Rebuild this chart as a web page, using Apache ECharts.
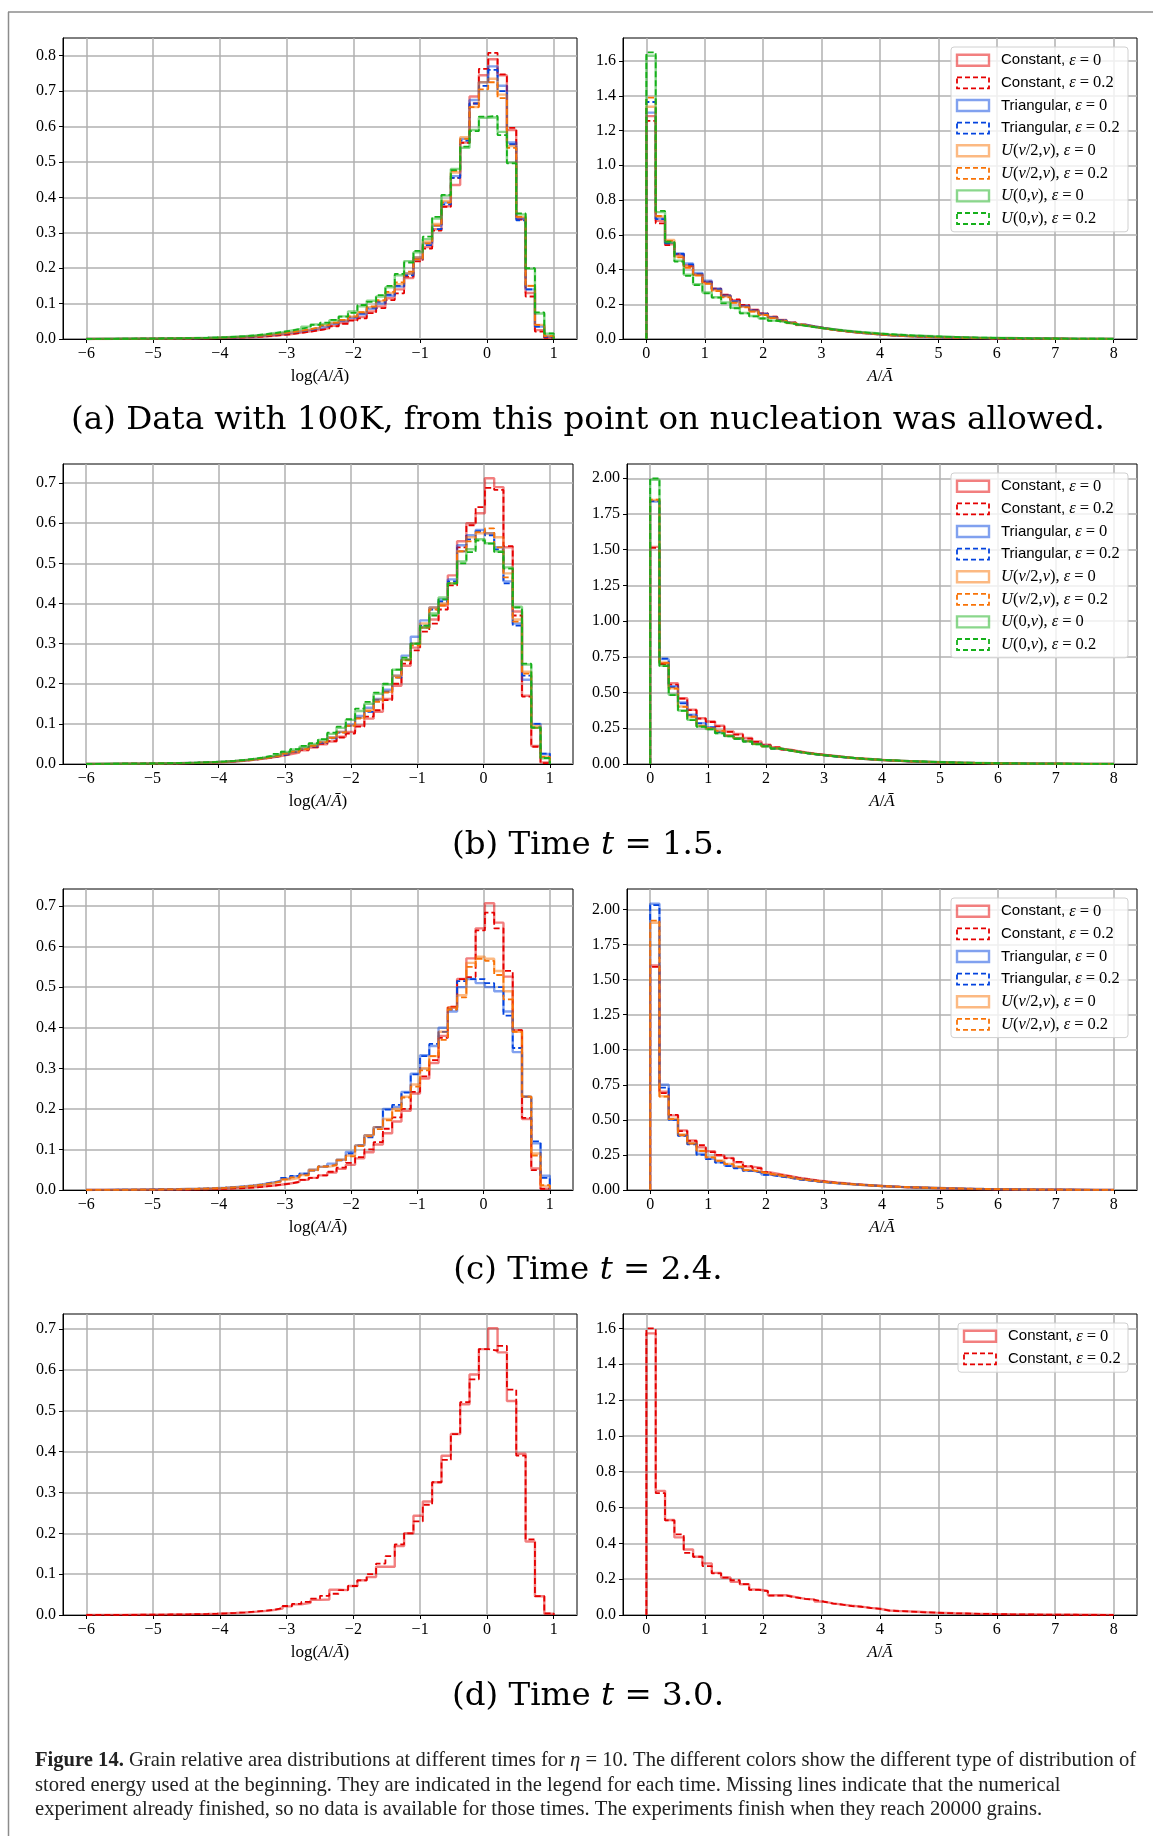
<!DOCTYPE html>
<html><head><meta charset="utf-8">
<script src="https://cdn.jsdelivr.net/npm/echarts@6/dist/echarts.min.js"></script>
<style>html,body{margin:0;padding:0;background:#fff}#c{width:1153px;height:1836px}</style>
</head><body><div id="c"></div><script>
// ---------------- DATA ----------------
// histogram bins: 50 bins over the given range
const logRange = [-6, 1];      // log(A/Ā) histograms (left panels)
const linRange = [0, 8];       // A/Ā histograms (right panels)
const logTicks = [-6, -5, -4, -3, -2, -1, 0, 1];
const linTicks = [0, 1, 2, 3, 4, 5, 6, 7, 8];
const yTicks07 = [0, 0.1, 0.2, 0.3, 0.4, 0.5, 0.6, 0.7];
const yTicks08 = [0, 0.1, 0.2, 0.3, 0.4, 0.5, 0.6, 0.7, 0.8];
const yTicks16 = [0, 0.2, 0.4, 0.6, 0.8, 1.0, 1.2, 1.4, 1.6];
const yTicks20 = [0, 0.25, 0.5, 0.75, 1.0, 1.25, 1.5, 1.75, 2.0];
const seriesNames = ['Constant, ε = 0', 'Constant, ε = 0.2', 'Triangular, ε = 0', 'Triangular, ε = 0.2',
  'U(ν/2,ν), ε = 0', 'U(ν/2,ν), ε = 0.2', 'U(0,ν), ε = 0', 'U(0,ν), ε = 0.2'];
const captions = ['(a) Data with 100K, from this point on nucleation was allowed.',
  '(b) Time {i|t} = 1.5.', '(c) Time {i|t} = 2.4.', '(d) Time {i|t} = 3.0.'];

// (a) 100K, left: log(A/Ā)
const aL_r0 = [0.0002,0.0002,0.0003,0.0004,0.0004,0.0005,0.0006,0.0008,0.0009,0.0011,
  0.0014,0.0017,0.002,0.0025,0.0031,0.0038,0.0046,0.0057,0.0072,0.0092,
  0.0115,0.014,0.018,0.022,0.026,0.031,0.037,0.045,0.054,0.062,
  0.078,0.092,0.115,0.14,0.172,0.225,0.26,0.31,0.375,0.435,
  0.555,0.685,0.745,0.79,0.745,0.59,0.34,0.13,0.025,0.004];
const aL_r2 = [0.0002,0.0002,0.0003,0.0003,0.0004,0.0005,0.0006,0.0007,0.0009,0.0011,
  0.0013,0.0016,0.002,0.0024,0.003,0.0036,0.0045,0.0055,0.007,0.009,
  0.011,0.014,0.017,0.021,0.025,0.03,0.036,0.043,0.052,0.058,
  0.073,0.087,0.11,0.129,0.176,0.219,0.255,0.306,0.373,0.455,
  0.554,0.665,0.763,0.808,0.747,0.596,0.337,0.12,0.021,0.003];
const aL_b0 = [0.0003,0.0003,0.0004,0.0005,0.0006,0.0007,0.0008,0.001,0.0012,0.0015,
  0.0018,0.0022,0.0027,0.0033,0.004,0.005,0.0062,0.0077,0.0097,0.012,
  0.015,0.018,0.022,0.026,0.031,0.036,0.043,0.051,0.06,0.07,
  0.085,0.1,0.122,0.148,0.185,0.23,0.27,0.32,0.385,0.46,
  0.565,0.675,0.725,0.77,0.715,0.555,0.34,0.14,0.035,0.007];
const aL_b2 = [0.0003,0.0003,0.0004,0.0005,0.0006,0.0007,0.0009,0.001,0.0012,0.0015,
  0.0018,0.0022,0.0027,0.0033,0.0041,0.005,0.0063,0.0078,0.0098,0.012,
  0.015,0.018,0.022,0.026,0.031,0.037,0.044,0.052,0.062,0.072,
  0.088,0.105,0.125,0.15,0.18,0.225,0.265,0.31,0.38,0.455,
  0.56,0.665,0.715,0.76,0.7,0.55,0.335,0.14,0.035,0.006];
const aL_o0 = [0.0003,0.0003,0.0004,0.0005,0.0006,0.0007,0.0009,0.0011,0.0013,0.0016,
  0.002,0.0024,0.0029,0.0035,0.0043,0.0053,0.0066,0.0082,0.0102,0.0126,
  0.0155,0.019,0.023,0.027,0.032,0.038,0.045,0.053,0.063,0.075,
  0.09,0.107,0.13,0.155,0.185,0.23,0.275,0.325,0.39,0.47,
  0.57,0.655,0.725,0.735,0.69,0.545,0.345,0.15,0.04,0.008];
const aL_o2 = [0.0003,0.0003,0.0004,0.0005,0.0006,0.0007,0.0009,0.0011,0.0013,0.0016,
  0.002,0.0024,0.0029,0.0036,0.0044,0.0054,0.0067,0.0083,0.0104,0.0128,
  0.016,0.019,0.023,0.028,0.033,0.039,0.046,0.054,0.064,0.076,
  0.092,0.11,0.133,0.16,0.19,0.225,0.27,0.32,0.385,0.475,
  0.565,0.655,0.705,0.725,0.68,0.54,0.345,0.15,0.04,0.008];
const aL_g0 = [0.0003,0.0005,0.0006,0.0007,0.0009,0.001,0.0011,0.0015,0.0017,0.0021,
  0.0025,0.003,0.0034,0.0043,0.0052,0.0063,0.0082,0.0098,0.0125,0.0165,
  0.0195,0.0245,0.0285,0.035,0.041,0.045,0.053,0.064,0.078,0.092,
  0.108,0.12,0.146,0.18,0.22,0.245,0.282,0.34,0.405,0.48,
  0.54,0.59,0.625,0.626,0.585,0.498,0.352,0.198,0.072,0.015];
const aL_g2 = [0.0004,0.0005,0.0006,0.0007,0.0008,0.001,0.0012,0.0014,0.0017,0.002,
  0.0024,0.0029,0.0035,0.0042,0.005,0.0065,0.008,0.01,0.013,0.016,
  0.02,0.024,0.029,0.034,0.04,0.046,0.054,0.063,0.074,0.096,
  0.105,0.124,0.15,0.184,0.216,0.249,0.289,0.345,0.407,0.477,
  0.543,0.587,0.628,0.63,0.576,0.496,0.355,0.2,0.075,0.016];

// (a) right: A/Ā
const aR_r0 = [1.283,0.68,0.545,0.485,0.425,0.372,0.328,0.288,0.252,0.224,
  0.193,0.168,0.146,0.127,0.109,0.095,0.083,0.072,0.063,0.055,
  0.048,0.042,0.036,0.031,0.027,0.023,0.02,0.017,0.015,0.013,
  0.011,0.0095,0.008,0.007,0.006,0.005,0.0043,0.0037,0.0032,0.0027,
  0.0023,0.002,0.0017,0.0014,0.0012,0.001,0.0009,0.0007,0.0006,0.0005];
const aR_r2 = [1.255,0.666,0.54,0.49,0.42,0.37,0.33,0.29,0.255,0.228,
  0.196,0.167,0.148,0.128,0.108,0.094,0.082,0.072,0.062,0.054,
  0.047,0.041,0.036,0.031,0.026,0.022,0.019,0.017,0.014,0.012,
  0.011,0.009,0.008,0.0068,0.0058,0.005,0.0042,0.0036,0.0031,0.0026,
  0.0022,0.0019,0.0016,0.0014,0.0012,0.001,0.0008,0.0007,0.0006,0.0005];
const aR_b0 = [1.303,0.694,0.555,0.493,0.435,0.38,0.335,0.29,0.25,0.218,
  0.19,0.165,0.145,0.126,0.108,0.094,0.082,0.072,0.063,0.055,
  0.048,0.042,0.036,0.031,0.027,0.023,0.02,0.017,0.015,0.013,
  0.011,0.0095,0.008,0.007,0.006,0.005,0.0043,0.0037,0.0032,0.0027,
  0.0023,0.002,0.0017,0.0014,0.0012,0.001,0.0009,0.0007,0.0006,0.0005];
const aR_b2 = [1.364,0.69,0.55,0.49,0.43,0.375,0.325,0.285,0.248,0.215,
  0.188,0.163,0.144,0.125,0.107,0.093,0.081,0.071,0.062,0.054,
  0.047,0.041,0.036,0.031,0.027,0.023,0.02,0.017,0.015,0.013,
  0.011,0.0095,0.008,0.007,0.006,0.005,0.0043,0.0037,0.0032,0.0027,
  0.0023,0.002,0.0017,0.0014,0.0012,0.001,0.0009,0.0007,0.0006,0.0005];
const aR_o0 = [1.337,0.705,0.57,0.474,0.416,0.37,0.32,0.28,0.245,0.21,
  0.185,0.16,0.14,0.122,0.105,0.092,0.08,0.07,0.062,0.054,
  0.047,0.041,0.036,0.031,0.027,0.023,0.02,0.017,0.015,0.013,
  0.011,0.0095,0.008,0.007,0.006,0.005,0.0043,0.0037,0.0032,0.0027,
  0.0023,0.002,0.0017,0.0014,0.0012,0.001,0.0009,0.0007,0.0006,0.0005];
const aR_o2 = [1.389,0.708,0.565,0.47,0.41,0.365,0.318,0.275,0.24,0.208,
  0.182,0.158,0.138,0.12,0.104,0.091,0.08,0.07,0.061,0.053,
  0.047,0.041,0.036,0.031,0.027,0.023,0.02,0.017,0.015,0.013,
  0.011,0.0095,0.008,0.007,0.006,0.005,0.0043,0.0037,0.0032,0.0027,
  0.0023,0.002,0.0017,0.0014,0.0012,0.001,0.0009,0.0007,0.0006,0.0005];
const aR_g0 = [1.63,0.73,0.555,0.45,0.37,0.315,0.268,0.24,0.21,0.18,
  0.15,0.132,0.119,0.106,0.096,0.086,0.077,0.069,0.062,0.056,
  0.05,0.045,0.04,0.036,0.032,0.028,0.025,0.022,0.02,0.018,
  0.016,0.014,0.012,0.0105,0.0093,0.0082,0.0072,0.0063,0.0055,0.0048,
  0.0042,0.0036,0.0031,0.0027,0.0023,0.002,0.0017,0.0015,0.0013,0.0011];
const aR_g2 = [1.65,0.737,0.56,0.445,0.363,0.31,0.263,0.238,0.205,0.177,
  0.148,0.13,0.118,0.105,0.095,0.085,0.076,0.068,0.061,0.055,
  0.049,0.044,0.039,0.035,0.031,0.028,0.025,0.022,0.019,0.017,
  0.015,0.013,0.0115,0.01,0.009,0.008,0.007,0.006,0.0053,0.0046,
  0.004,0.0035,0.003,0.0026,0.0023,0.002,0.0017,0.0015,0.0013,0.0011];

// (b) t = 1.5, left
const bL_r0 = [0.0003,0.0003,0.0004,0.0005,0.0006,0.0008,0.001,0.0012,0.0015,0.0019,
  0.0023,0.0028,0.0034,0.0041,0.005,0.0064,0.0081,0.0102,0.0128,0.016,
  0.0195,0.024,0.0285,0.034,0.041,0.049,0.056,0.068,0.08,0.096,
  0.113,0.13,0.162,0.195,0.245,0.29,0.34,0.36,0.395,0.47,
  0.555,0.6,0.625,0.712,0.69,0.54,0.38,0.17,0.045,0.004];
const bL_r2 = [0.0003,0.0003,0.0004,0.0005,0.0006,0.0008,0.001,0.0012,0.0015,0.0019,
  0.0023,0.0028,0.0034,0.004,0.005,0.0065,0.008,0.01,0.013,0.016,
  0.02,0.024,0.029,0.035,0.042,0.05,0.057,0.066,0.076,0.093,
  0.118,0.134,0.159,0.2,0.25,0.283,0.33,0.35,0.385,0.445,
  0.54,0.595,0.64,0.688,0.683,0.543,0.37,0.168,0.043,0.002];
const bL_b0 = [0.0003,0.0004,0.0005,0.0006,0.0007,0.0009,0.0011,0.0013,0.0016,0.002,
  0.0025,0.003,0.0037,0.0045,0.0055,0.0069,0.0086,0.0108,0.0135,0.017,
  0.021,0.026,0.031,0.038,0.045,0.054,0.066,0.08,0.098,0.12,
  0.14,0.162,0.185,0.22,0.27,0.317,0.358,0.39,0.41,0.46,
  0.545,0.57,0.583,0.575,0.54,0.455,0.35,0.21,0.1,0.025];
const bL_b2 = [0.0003,0.0004,0.0005,0.0006,0.0007,0.0009,0.0011,0.0013,0.0016,0.002,
  0.0025,0.003,0.0036,0.0044,0.0054,0.0068,0.0085,0.0107,0.0134,0.0168,
  0.0205,0.025,0.03,0.037,0.044,0.053,0.064,0.078,0.095,0.115,
  0.13,0.16,0.18,0.215,0.26,0.3,0.345,0.385,0.405,0.455,
  0.53,0.56,0.58,0.57,0.535,0.45,0.345,0.22,0.1,0.026];
const bL_o0 = [0.0003,0.0004,0.0005,0.0006,0.0007,0.0009,0.0011,0.0013,0.0016,0.002,
  0.0025,0.003,0.0037,0.0045,0.0055,0.0069,0.0086,0.0108,0.0135,0.017,
  0.021,0.026,0.031,0.038,0.046,0.055,0.066,0.08,0.096,0.115,
  0.135,0.16,0.18,0.22,0.26,0.3,0.35,0.39,0.4,0.45,
  0.53,0.565,0.575,0.575,0.565,0.475,0.36,0.23,0.095,0.018];
const bL_o2 = [0.0003,0.0004,0.0005,0.0006,0.0007,0.0009,0.0011,0.0013,0.0016,0.002,
  0.0025,0.003,0.0036,0.0044,0.0054,0.0068,0.0085,0.0106,0.0133,0.0167,
  0.021,0.026,0.031,0.037,0.045,0.054,0.065,0.078,0.095,0.113,
  0.132,0.155,0.178,0.215,0.258,0.295,0.34,0.385,0.395,0.45,
  0.53,0.555,0.578,0.587,0.54,0.465,0.355,0.225,0.09,0.018];
const bL_g0 = [0.0004,0.0005,0.0006,0.0007,0.0008,0.001,0.0012,0.0015,0.0019,0.0023,
  0.0028,0.0034,0.0042,0.0051,0.0063,0.0078,0.0097,0.012,0.0155,0.0195,
  0.024,0.03,0.036,0.043,0.05,0.06,0.075,0.09,0.11,0.132,
  0.15,0.175,0.198,0.235,0.26,0.3,0.34,0.375,0.415,0.45,
  0.505,0.535,0.56,0.55,0.53,0.49,0.392,0.248,0.09,0.014];
const bL_g2 = [0.0004,0.0005,0.0006,0.0007,0.0009,0.0011,0.0013,0.0016,0.002,0.0024,
  0.0029,0.0035,0.0043,0.0052,0.0064,0.008,0.01,0.013,0.016,0.02,
  0.025,0.031,0.037,0.045,0.052,0.062,0.078,0.093,0.112,0.138,
  0.155,0.178,0.2,0.235,0.265,0.3,0.345,0.37,0.41,0.45,
  0.5,0.528,0.557,0.549,0.528,0.487,0.39,0.25,0.091,0.015];

// (b) right
const bR_r0 = [1.52,0.705,0.565,0.46,0.38,0.32,0.298,0.268,0.228,0.21,
  0.182,0.158,0.135,0.118,0.102,0.09,0.08,0.071,0.063,0.056,
  0.049,0.043,0.038,0.033,0.029,0.025,0.022,0.019,0.016,0.014,
  0.012,0.01,0.0088,0.0076,0.0065,0.0056,0.0048,0.0041,0.0035,0.003,
  0.0026,0.0022,0.0019,0.0016,0.0014,0.0012,0.001,0.0008,0.0007,0.0006];
const bR_r2 = [1.513,0.7,0.555,0.458,0.377,0.318,0.294,0.263,0.225,0.205,
  0.178,0.155,0.132,0.116,0.1,0.089,0.079,0.07,0.062,0.055,
  0.048,0.042,0.037,0.032,0.028,0.024,0.021,0.018,0.016,0.014,
  0.012,0.01,0.0085,0.0074,0.0064,0.0055,0.0047,0.004,0.0034,0.0029,
  0.0025,0.0021,0.0018,0.0016,0.0013,0.0011,0.001,0.0008,0.0007,0.0006];
const bR_b0 = [1.837,0.735,0.545,0.43,0.345,0.286,0.258,0.226,0.198,0.18,
  0.162,0.142,0.126,0.11,0.097,0.086,0.076,0.067,0.06,0.053,
  0.047,0.041,0.036,0.032,0.028,0.025,0.022,0.019,0.017,0.015,
  0.013,0.011,0.0095,0.0082,0.0071,0.0061,0.0052,0.0045,0.0039,0.0033,
  0.0028,0.0024,0.0021,0.0018,0.0015,0.0013,0.0011,0.0009,0.0008,0.0007];
const bR_b2 = [1.84,0.738,0.538,0.424,0.342,0.284,0.256,0.223,0.195,0.178,
  0.158,0.14,0.125,0.108,0.095,0.084,0.075,0.066,0.059,0.052,
  0.046,0.041,0.036,0.032,0.028,0.025,0.022,0.019,0.017,0.015,
  0.013,0.011,0.0095,0.0082,0.0071,0.0061,0.0052,0.0045,0.0039,0.0033,
  0.0028,0.0024,0.0021,0.0018,0.0015,0.0013,0.0011,0.0009,0.0008,0.0007];
const bR_o0 = [1.848,0.71,0.53,0.402,0.332,0.268,0.25,0.233,0.2,0.182,
  0.161,0.141,0.125,0.11,0.097,0.086,0.076,0.067,0.06,0.053,
  0.047,0.041,0.036,0.032,0.028,0.025,0.022,0.019,0.017,0.015,
  0.013,0.011,0.0095,0.0082,0.0071,0.0061,0.0052,0.0045,0.0039,0.0033,
  0.0028,0.0024,0.0021,0.0018,0.0015,0.0013,0.0011,0.0009,0.0008,0.0007];
const bR_o2 = [1.851,0.708,0.528,0.4,0.33,0.265,0.249,0.232,0.198,0.18,
  0.16,0.14,0.124,0.109,0.096,0.085,0.075,0.067,0.059,0.053,
  0.047,0.041,0.036,0.032,0.028,0.025,0.022,0.019,0.017,0.015,
  0.013,0.011,0.0095,0.0082,0.0071,0.0061,0.0052,0.0045,0.0039,0.0033,
  0.0028,0.0024,0.0021,0.0018,0.0015,0.0013,0.0011,0.0009,0.0008,0.0007];
const bR_g0 = [1.99,0.69,0.485,0.375,0.31,0.262,0.244,0.216,0.195,0.178,
  0.158,0.139,0.124,0.109,0.096,0.085,0.076,0.067,0.06,0.054,
  0.048,0.042,0.037,0.033,0.029,0.026,0.023,0.02,0.018,0.016,
  0.014,0.012,0.01,0.0088,0.0076,0.0066,0.0057,0.0049,0.0042,0.0036,
  0.0031,0.0027,0.0023,0.002,0.0017,0.0014,0.0012,0.001,0.0009,0.0008];
const bR_g2 = [2.0,0.685,0.482,0.372,0.307,0.26,0.242,0.214,0.193,0.176,
  0.157,0.138,0.123,0.108,0.095,0.085,0.075,0.067,0.06,0.053,
  0.047,0.042,0.037,0.033,0.029,0.026,0.023,0.02,0.018,0.016,
  0.014,0.012,0.01,0.0088,0.0076,0.0066,0.0057,0.0049,0.0042,0.0036,
  0.0031,0.0027,0.0023,0.002,0.0017,0.0014,0.0012,0.001,0.0009,0.0008];

// (c) t = 2.4, left
const cL_r0 = [0.0002,0.0002,0.0003,0.0003,0.0004,0.0005,0.0006,0.0007,0.0009,0.0011,
  0.0014,0.0017,0.0021,0.0026,0.0032,0.004,0.005,0.0064,0.0082,0.0105,
  0.013,0.016,0.02,0.025,0.03,0.036,0.043,0.052,0.062,0.078,
  0.093,0.112,0.14,0.169,0.195,0.238,0.275,0.313,0.38,0.45,
  0.52,0.571,0.645,0.707,0.659,0.526,0.394,0.175,0.053,0.003];
const cL_r2 = [0.0002,0.0002,0.0002,0.0003,0.0004,0.0004,0.0005,0.0006,0.0008,0.001,
  0.0012,0.0015,0.0019,0.0024,0.003,0.0038,0.0048,0.006,0.0078,0.01,
  0.013,0.016,0.02,0.025,0.03,0.036,0.045,0.055,0.067,0.081,
  0.1,0.118,0.151,0.179,0.2,0.242,0.28,0.32,0.375,0.452,
  0.52,0.525,0.64,0.684,0.645,0.54,0.394,0.178,0.049,0.003];
const cL_b0 = [0.0003,0.0004,0.0005,0.0006,0.0007,0.0009,0.0011,0.0013,0.0016,0.002,
  0.0025,0.003,0.0037,0.0045,0.0056,0.007,0.0088,0.011,0.014,0.018,
  0.022,0.028,0.034,0.04,0.05,0.057,0.065,0.075,0.094,0.11,
  0.135,0.155,0.2,0.205,0.242,0.287,0.332,0.355,0.4,0.44,
  0.5,0.52,0.51,0.5,0.49,0.44,0.34,0.23,0.115,0.035];
const cL_b2 = [0.0003,0.0004,0.0005,0.0006,0.0007,0.0009,0.0011,0.0013,0.0016,0.002,
  0.0025,0.003,0.0037,0.0045,0.0056,0.007,0.0088,0.011,0.014,0.018,
  0.022,0.03,0.035,0.04,0.048,0.058,0.062,0.073,0.09,0.11,
  0.13,0.155,0.198,0.21,0.24,0.285,0.33,0.36,0.39,0.445,
  0.515,0.52,0.52,0.51,0.5,0.43,0.35,0.23,0.12,0.03];
const cL_o0 = [0.0003,0.0003,0.0004,0.0005,0.0006,0.0008,0.001,0.0012,0.0015,0.0019,
  0.0024,0.0029,0.0035,0.0043,0.0053,0.0066,0.0083,0.0104,0.013,0.0165,
  0.021,0.026,0.03,0.037,0.05,0.057,0.06,0.075,0.085,0.11,
  0.135,0.155,0.175,0.2,0.23,0.26,0.3,0.33,0.39,0.45,
  0.48,0.56,0.575,0.57,0.54,0.49,0.39,0.23,0.09,0.01];
const cL_o2 = [0.0003,0.0003,0.0004,0.0005,0.0006,0.0008,0.001,0.0012,0.0015,0.0019,
  0.0024,0.0029,0.0035,0.0043,0.0053,0.0066,0.0083,0.0104,0.013,0.0165,
  0.021,0.026,0.031,0.036,0.048,0.058,0.062,0.073,0.083,0.108,
  0.132,0.15,0.172,0.195,0.228,0.255,0.295,0.33,0.37,0.445,
  0.475,0.55,0.57,0.565,0.53,0.47,0.39,0.23,0.085,0.012];

// (c) right
const cR_r0 = [1.6,0.7,0.532,0.425,0.353,0.305,0.277,0.246,0.229,0.198,
  0.167,0.158,0.126,0.112,0.1,0.088,0.078,0.069,0.061,0.054,
  0.048,0.042,0.037,0.033,0.029,0.025,0.022,0.019,0.017,0.015,
  0.013,0.011,0.0095,0.0082,0.0071,0.0061,0.0052,0.0045,0.0039,0.0033,
  0.0028,0.0024,0.0021,0.0018,0.0015,0.0013,0.0011,0.0009,0.0008,0.0007];
const cR_r2 = [1.59,0.69,0.535,0.42,0.35,0.32,0.27,0.25,0.225,0.2,
  0.17,0.155,0.128,0.11,0.098,0.087,0.077,0.068,0.06,0.053,
  0.047,0.042,0.037,0.032,0.028,0.025,0.022,0.019,0.017,0.015,
  0.013,0.011,0.0095,0.0082,0.0071,0.0061,0.0052,0.0045,0.0039,0.0033,
  0.0028,0.0024,0.0021,0.0018,0.0015,0.0013,0.0011,0.0009,0.0008,0.0007];
const cR_b0 = [2.04,0.75,0.5,0.39,0.33,0.258,0.222,0.198,0.174,0.158,
  0.138,0.126,0.11,0.1,0.09,0.08,0.071,0.063,0.056,0.05,
  0.045,0.04,0.036,0.032,0.028,0.025,0.022,0.02,0.018,0.016,
  0.014,0.012,0.011,0.0095,0.0083,0.0072,0.0062,0.0054,0.0047,0.004,
  0.0035,0.003,0.0026,0.0022,0.0019,0.0016,0.0014,0.0012,0.001,0.0009];
const cR_b2 = [2.03,0.73,0.5,0.385,0.325,0.25,0.22,0.195,0.17,0.155,
  0.136,0.124,0.108,0.097,0.088,0.075,0.068,0.06,0.054,0.049,
  0.044,0.04,0.036,0.032,0.028,0.025,0.022,0.02,0.018,0.016,
  0.014,0.012,0.011,0.0095,0.0083,0.0072,0.0062,0.0054,0.0047,0.004,
  0.0035,0.003,0.0026,0.0022,0.0019,0.0016,0.0014,0.0012,0.001,0.0009];
const cR_o0 = [1.905,0.668,0.508,0.396,0.334,0.28,0.234,0.21,0.186,0.167,
  0.143,0.129,0.115,0.105,0.092,0.08,0.072,0.064,0.057,0.051,
  0.045,0.04,0.036,0.032,0.028,0.025,0.022,0.02,0.018,0.016,
  0.014,0.012,0.011,0.0095,0.0083,0.0072,0.0062,0.0054,0.0047,0.004,
  0.0035,0.003,0.0026,0.0022,0.0019,0.0016,0.0014,0.0012,0.001,0.0009];
const cR_o2 = [1.92,0.665,0.505,0.39,0.33,0.278,0.232,0.208,0.184,0.165,
  0.142,0.128,0.114,0.104,0.091,0.08,0.071,0.063,0.056,0.05,
  0.045,0.04,0.036,0.032,0.028,0.025,0.022,0.02,0.018,0.016,
  0.014,0.012,0.011,0.0095,0.0083,0.0072,0.0062,0.0054,0.0047,0.004,
  0.0035,0.003,0.0026,0.0022,0.0019,0.0016,0.0014,0.0012,0.001,0.0009];

// (d) t = 3.0, left
const dL_r0 = [0.0002,0.0003,0.0004,0.0004,0.0005,0.0006,0.0008,0.001,0.0012,0.0014,
  0.0017,0.0021,0.0026,0.0032,0.004,0.005,0.0062,0.0077,0.0095,0.012,
  0.016,0.021,0.026,0.03,0.037,0.038,0.062,0.061,0.071,0.085,
  0.093,0.118,0.118,0.169,0.2,0.243,0.278,0.325,0.39,0.443,
  0.516,0.589,0.651,0.702,0.643,0.524,0.395,0.18,0.046,0.003];
const dL_r2 = [0.0002,0.0003,0.0004,0.0004,0.0005,0.0006,0.0008,0.001,0.0012,0.0014,
  0.0017,0.0021,0.0026,0.0033,0.0042,0.0053,0.0066,0.0082,0.01,0.0125,
  0.017,0.022,0.027,0.032,0.04,0.047,0.052,0.061,0.071,0.085,
  0.1,0.126,0.144,0.173,0.2,0.229,0.27,0.325,0.38,0.443,
  0.521,0.577,0.651,0.647,0.659,0.552,0.39,0.185,0.046,0.004];
// (d) right
const dR_r0 = [1.572,0.693,0.53,0.433,0.366,0.325,0.288,0.235,0.209,0.185,
  0.172,0.142,0.134,0.11,0.11,0.1,0.09,0.087,0.075,0.065,
  0.058,0.052,0.047,0.04,0.035,0.025,0.022,0.02,0.018,0.015,
  0.013,0.012,0.01,0.0088,0.0076,0.0065,0.0056,0.0048,0.0041,0.0035,
  0.003,0.0026,0.0022,0.0019,0.0016,0.0014,0.0012,0.001,0.0008,0.0007];
const dR_r2 = [1.6,0.68,0.528,0.45,0.347,0.325,0.273,0.232,0.209,0.194,
  0.172,0.14,0.134,0.108,0.108,0.098,0.09,0.085,0.074,0.064,
  0.058,0.05,0.046,0.039,0.034,0.025,0.022,0.02,0.017,0.015,
  0.013,0.011,0.0098,0.0086,0.0075,0.0064,0.0055,0.0047,0.004,0.0034,
  0.003,0.0025,0.0022,0.0019,0.0016,0.0013,0.0011,0.001,0.0008,0.0007];

// ---------------- LAYOUT / STYLE ----------------
const colors = ['#e50000', '#0343df', '#f97306', '#15b01a'];
const legendRich = [
  '{s|Constant,} {m|ε} {n|=} {n|0}', '{s|Constant,} {m|ε} {n|=} {n|0.2}',
  '{s|Triangular,} {m|ε} {n|=} {n|0}', '{s|Triangular,} {m|ε} {n|=} {n|0.2}',
  '{m|U}{n|(}{m|ν}{n|/2,}{m|ν}{n|),} {m|ε} {n|=} {n|0}', '{m|U}{n|(}{m|ν}{n|/2,}{m|ν}{n|),} {m|ε} {n|=} {n|0.2}',
  '{m|U}{n|(0,}{m|ν}{n|),} {m|ε} {n|=} {n|0}', '{m|U}{n|(0,}{m|ν}{n|),} {m|ε} {n|=} {n|0.2}'];

const rows = [
  { top: 38, h: 301, L: [63, 514], R: [623, 514], yL: [0.85, yTicks08, 1], yR: [1.7325, yTicks16, 1],
    left: [aL_r0, aL_r2, aL_b0, aL_b2, aL_o0, aL_o2, aL_g0, aL_g2],
    right: [aR_r0, aR_r2, aR_b0, aR_b2, aR_o0, aR_o2, aR_g0, aR_g2], legW: 177, capY: 421 },
  { top: 464, h: 300, L: [63, 510], R: [627, 510], yL: [0.7476, yTicks07, 1], yR: [2.1, yTicks20, 2],
    left: [bL_r0, bL_r2, bL_b0, bL_b2, bL_o0, bL_o2, bL_g0, bL_g2],
    right: [bR_r0, bR_r2, bR_b0, bR_b2, bR_o0, bR_o2, bR_g0, bR_g2], legW: 177, capY: 846 },
  { top: 889, h: 301, L: [63, 510], R: [627, 510], yL: [0.742, yTicks07, 1], yR: [2.145, yTicks20, 2],
    left: [cL_r0, cL_r2, cL_b0, cL_b2, cL_o0, cL_o2],
    right: [cR_r0, cR_r2, cR_b0, cR_b2, cR_o0, cR_o2], legW: 177, capY: 1271 },
  { top: 1314, h: 301, L: [63, 514], R: [623, 514], yL: [0.737, yTicks07, 1], yR: [1.68, yTicks16, 1],
    left: [dL_r0, dL_r2], right: [dR_r0, dR_r2], legW: 170, capY: 1697 }
];

function stepPts(vals, range) {
  const lo = range[0], hi = range[1], n = vals.length, w = (hi - lo) / n;
  const pts = [[lo, 0]];
  vals.forEach((v, k) => { pts.push([lo + k * w, v], [lo + (k + 1) * w, v]); });
  pts.push([hi, 0]);
  return pts;
}
const tickFont = { fontFamily: 'Liberation Serif', fontSize: 16, color: '#000' };
const minus = v => (v < 0 ? '\u2212' + Math.abs(v) : String(v));

const option = { animation: false, backgroundColor: '#fff', grid: [], xAxis: [], yAxis: [], series: [], graphic: { elements: [] } };
const G = option.graphic.elements;

rows.forEach((row, r) => {
  ['L', 'R'].forEach(side => {
    const gi = option.grid.length;
    const isL = side === 'L';
    option.grid.push({ left: row[side][0], top: row.top, width: row[side][1], height: row.h,
      show: true, borderColor: '#000', borderWidth: 1, backgroundColor: '#fff', containLabel: false });
    option.xAxis.push({
      type: 'value', gridIndex: gi,
      min: isL ? -6.35 : -0.4, max: isL ? 1.35 : 8.4,
      name: isL ? 'log({i|A}/{i|Ā})' : '{i|A}/{i|Ā}',
      nameLocation: 'middle', nameGap: 29,
      nameTextStyle: { fontFamily: 'Liberation Serif', fontSize: 17, color: '#000',
        rich: { i: { fontFamily: 'Liberation Serif', fontStyle: 'italic', fontSize: 17, color: '#000' } } },
      axisLine: { show: true, onZero: false, lineStyle: { color: '#000', width: 1 } },
      axisTick: { show: true, length: 4, lineStyle: { color: '#000', width: 1 }, customValues: isL ? logTicks : linTicks },
      axisLabel: Object.assign({ margin: 7, customValues: isL ? logTicks : linTicks, formatter: v => minus(v) }, tickFont),
      splitLine: { show: true, lineStyle: { color: '#b0b0b0', width: 1.5 } }
    });
    const yc = isL ? row.yL : row.yR;
    option.yAxis.push({
      type: 'value', gridIndex: gi, min: 0, max: yc[0],
      axisLine: { show: true, onZero: false, lineStyle: { color: '#000', width: 1 } },
      axisTick: { show: true, length: 4, lineStyle: { color: '#000', width: 1 }, customValues: yc[1] },
      axisLabel: Object.assign({ margin: 7, customValues: yc[1], formatter: v => v.toFixed(yc[2]) }, tickFont),
      splitLine: { show: true, lineStyle: { color: '#b0b0b0', width: 1.5 } }
    });
    const sets = isL ? row.left : row.right;
    sets.forEach((vals, i) => {
      const dashed = i % 2 === 1;
      option.series.push({
        type: 'line', name: seriesNames[i], xAxisIndex: gi, yAxisIndex: gi,
        data: stepPts(vals, isL ? logRange : linRange),
        showSymbol: false, symbol: 'none', silent: true, z: 3,
        lineStyle: dashed ? { color: colors[i >> 1], width: 1.8, type: [6, 3] }
                          : { color: colors[i >> 1], width: 2.4, opacity: 0.5 }
      });
    });
    // legend (drawn as graphic, upper-right inside right panel)
    if (!isL) {
      const n = sets.length, rowH = 22.6;
      const gRight = row.R[0] + row.R[1];
      const bx = gRight - 9 - row.legW, by = row.top + 9;
      G.push({ type: 'rect', shape: { x: bx, y: by, width: row.legW, height: n * rowH + 4, r: 3 },
        style: { fill: 'rgba(255,255,255,0.8)', stroke: '#d0d0d0', lineWidth: 1 }, z: 50 });
      for (let i = 0; i < n; i++) {
        const dashed = i % 2 === 1;
        const cy = by + 2 + rowH * i + rowH / 2;
        G.push({ type: 'rect', shape: { x: bx + 6, y: cy - 5.5, width: 32, height: 11 },
          style: dashed ? { fill: 'none', stroke: colors[i >> 1], lineWidth: 1.8, lineDash: [5, 3] }
                        : { fill: 'none', stroke: colors[i >> 1], lineWidth: 2.4, opacity: 0.5 }, z: 51 });
        G.push({ type: 'text', x: bx + 50, y: cy, z: 51,
          style: { text: legendRich[i], fill: '#000', font: '16px "Liberation Serif"',
            align: 'left', verticalAlign: 'middle', textAlign: 'left', textVerticalAlign: 'middle',
            rich: { s: { fontFamily: 'Liberation Sans', fontSize: 15, fill: '#000' },
                    m: { fontFamily: 'Liberation Serif', fontStyle: 'italic', fontSize: 16.5, fill: '#000' },
                    n: { fontFamily: 'Liberation Serif', fontSize: 16.5, fill: '#000' } } } });
      }
    }
  });
  G.push({ type: 'text', x: 588, y: row.capY, z: 60,
    style: { text: captions[r], fill: '#000', font: '32.5px "DejaVu Serif"',
      align: 'center', verticalAlign: 'middle', textAlign: 'center', textVerticalAlign: 'middle',
      rich: { i: { fontFamily: 'DejaVu Serif', fontStyle: 'italic', fontSize: 32.5, fill: '#000' } } } });
});

// frame lines
G.push({ type: 'line', shape: { x1: 8, y1: 12, x2: 1153, y2: 12 }, style: { stroke: '#8c8c8c', lineWidth: 1.5 }, z: 60 });
G.push({ type: 'line', shape: { x1: 8.5, y1: 12, x2: 8.5, y2: 1836 }, style: { stroke: '#8c8c8c', lineWidth: 1.5 }, z: 60 });

// figure caption
const figCap = [
  '{b|Figure 14.} Grain relative area distributions at different times for {i|η} = 10. The different colors show the different type of distribution of',
  'stored energy used at the beginning. They are indicated in the legend for each time. Missing lines indicate that the numerical',
  'experiment already finished, so no data is available for those times. The experiments finish when they reach 20000 grains.'];
figCap.forEach((t, k) => {
  G.push({ type: 'text', x: 35, y: 1761 + 24.5 * k, z: 60,
    style: { text: t, fill: '#222', font: '20.6px "Liberation Serif"', align: 'left', verticalAlign: 'middle',
      textAlign: 'left', textVerticalAlign: 'middle',
      rich: { b: { fontFamily: 'Liberation Serif', fontWeight: 'bold', fontSize: 20.6, fill: '#222' },
              i: { fontFamily: 'Liberation Serif', fontStyle: 'italic', fontSize: 20.6, fill: '#222' } } } });
});

const chart = echarts.init(document.getElementById('c'), null, { renderer: 'canvas' });
chart.setOption(option);
</script></body></html>
